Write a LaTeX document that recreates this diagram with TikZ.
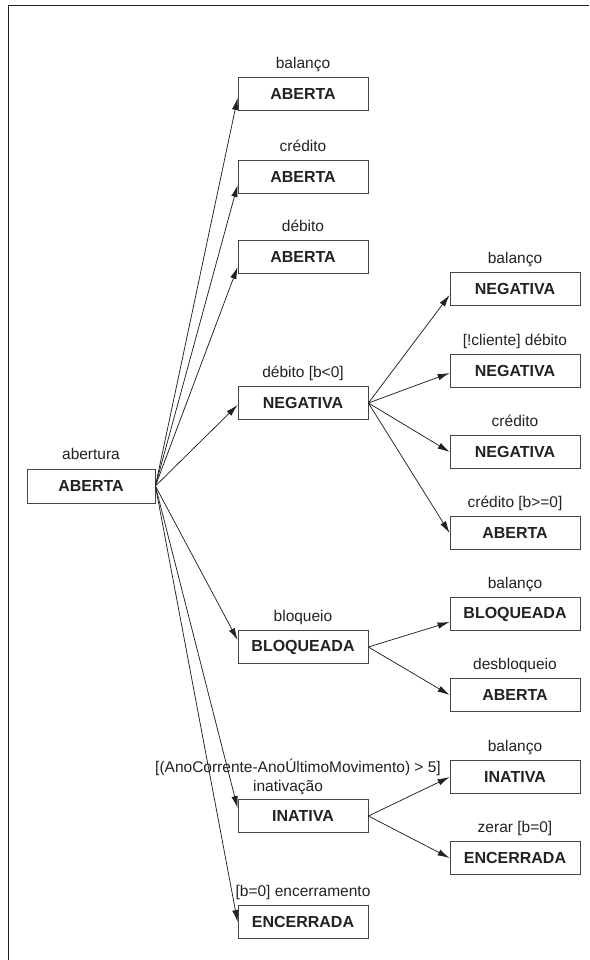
\documentclass[tikz,border=0pt]{standalone}
\usepackage{fontspec}
\setmainfont{Liberation Sans}
\usetikzlibrary{arrows.meta}
\definecolor{ink}{HTML}{222222}
\definecolor{boxline}{HTML}{444444}
\tikzset{
  st/.style={draw=boxline, line width=0.8pt, minimum width=130pt, minimum height=33pt,
    inner sep=0pt, text=ink, font=\fontsize{16}{19}\selectfont\bfseries},
  st2/.style={st, minimum width=128pt, minimum height=34pt},
  lbl/.style={text=ink, inner sep=0pt, anchor=base, font=\fontsize{15.5}{18}\selectfont},
  tr/.style={draw=ink, line width=0.75pt, -{Latex[length=12pt,width=6.5pt]}},
  frame/.style={draw=ink, line width=0.8pt}
}
\begin{document}
\begin{tikzpicture}[x=1pt,y=-1pt]
\useasboundingbox (0,0) rectangle (589,960);
\coordinate (fb) at (8,960);
\coordinate (fc) at (8,5);
\coordinate (fr) at (589,5);
\draw[frame] (fb) -- (fc) -- (fr);

% states
\node[st2] (a0) at (91,486) {ABERTA};
\node[st] (b1) at (303,94) {ABERTA};
\node[st] (b2) at (303,177) {ABERTA};
\node[st] (b3) at (303,257) {ABERTA};
\node[st] (neg) at (303,403) {NEGATIVA};
\node[st] (blq) at (303,647) {BLOQUEADA};
\node[st] (ina) at (303,816) {INATIVA};
\node[st] (enc) at (303,922) {ENCERRADA};
\node[st] (n1) at (515,289) {NEGATIVA};
\node[st] (n2) at (515,371) {NEGATIVA};
\node[st] (n3) at (515,452) {NEGATIVA};
\node[st] (a4) at (515,533) {ABERTA};
\node[st] (bl2) at (515,614) {BLOQUEADA};
\node[st] (a5) at (515,695) {ABERTA};
\node[st] (in2) at (515,777) {INATIVA};
\node[st] (en2) at (515,858) {ENCERRADA};

% labels
\node[lbl] (la0) at ([yshift=9pt]a0.north) {abertura};
\node[lbl] (lb1) at ([yshift=9pt]b1.north) {balanço};
\node[lbl] (lb2) at ([yshift=9pt]b2.north) {crédito};
\node[lbl] (lb3) at ([yshift=9pt]b3.north) {débito};
\node[lbl] (lneg) at ([yshift=9pt]neg.north) {débito [b<0]};
\node[lbl] (lblq) at ([yshift=9pt]blq.north) {bloqueio};
\node[lbl] (lina2) at ([xshift=-5pt,yshift=27pt]ina.north) {[(AnoCorrente-AnoÚltimoMovimento) > 5]};
\node[lbl] (lina) at ([xshift=-15pt,yshift=8pt]ina.north) {inativação};
\node[lbl] (lenc) at ([yshift=9pt]enc.north) {[b=0] encerramento};
\node[lbl] (ln1) at ([yshift=9pt]n1.north) {balanço};
\node[lbl] (ln2) at ([yshift=9pt]n2.north) {[!cliente] débito};
\node[lbl] (ln3) at ([yshift=9pt]n3.north) {crédito};
\node[lbl] (la4) at ([yshift=9pt]a4.north) {crédito [b>=0]};
\node[lbl] (lbl2) at ([yshift=9pt]bl2.north) {balanço};
\node[lbl] (la5) at ([yshift=9pt]a5.north) {desbloqueio};
\node[lbl] (lin2) at ([yshift=9pt]in2.north) {balanço};
\node[lbl] (len2) at ([yshift=9pt]en2.north) {zerar [b=0]};

% transitions from ABERTA
\draw[tr] (a0.east) -- ([yshift=-4pt]b1.west);
\draw[tr] (a0.east) -- ([yshift=-8pt]b2.west);
\draw[tr] (a0.east) -- ([yshift=-10pt]b3.west);
\draw[tr] (a0.east) -- ([yshift=-2pt]neg.west);
\draw[tr] (a0.east) -- ([yshift=7pt]blq.west);
\draw[tr] (a0.east) -- ([yshift=8pt]ina.west);
\draw[tr] (a0.east) -- (enc.west);

% from NEGATIVA
\draw[tr] (neg.east) -- ([yshift=-6pt]n1.west);
\draw[tr] (neg.east) -- ([yshift=-2pt]n2.west);
\draw[tr] (neg.east) -- (n3.west);
\draw[tr] (neg.east) -- (a4.west);

% from BLOQUEADA
\draw[tr] (blq.east) -- ([yshift=-8pt]bl2.west);
\draw[tr] (blq.east) -- (a5.west);

% from INATIVA
\draw[tr] (ina.east) -- (in2.west);
\draw[tr] (ina.east) -- (en2.west);
\end{tikzpicture}
\end{document}
